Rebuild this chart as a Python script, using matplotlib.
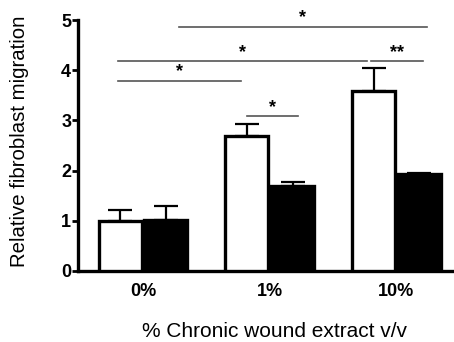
import numpy as np
import matplotlib.pyplot as plt

plt.rcParams['font.family'] = ['Liberation Sans', 'DejaVu Sans']

groups = ['0%', '1%', '10%']
open_vals = [1.0, 2.68, 3.58]
open_err = [0.22, 0.25, 0.47]
filled_vals = [1.01, 1.69, 1.94]
filled_err = [0.28, 0.09, 0.02]

# significance brackets: (x start, x end, height, label)
brackets = [
    (0.28, 2.24, 4.87, '*'),
    (-0.2, 1.77, 4.18, '*'),
    (1.80, 2.21, 4.18, '**'),
    (-0.2, 0.77, 3.79, '*'),
    (0.82, 1.22, 3.08, '*'),
]

x = np.arange(len(groups))
w = 0.34
off = 0.18

fig = plt.figure(figsize=(4.54, 3.42), dpi=100)
ax = fig.add_axes([0.172, 0.208, 0.828, 0.733])

ax.bar(x - off, open_vals, w, color='white', edgecolor='black', linewidth=2.4, zorder=3)
ax.bar(x + off, filled_vals, w, color='black', edgecolor='black', linewidth=2.4, zorder=3)
ax.errorbar(x - off, open_vals, yerr=[np.zeros(3), open_err], fmt='none',
            ecolor='black', elinewidth=1.6, capsize=8.5, capthick=1.6, zorder=2)
ax.errorbar(x + off, filled_vals, yerr=[np.zeros(3), filled_err], fmt='none',
            ecolor='black', elinewidth=1.6, capsize=8.5, capthick=1.6, zorder=2)

for x1, x2, yb, lab in brackets:
    ax.plot([x1, x2], [yb, yb], color='#555555', lw=1.2, clip_on=False)
    ax.text((x1 + x2) / 2, yb + 0.01, lab, ha='center', va='bottom',
            fontsize=13, fontweight='bold', clip_on=False)

ax.set_xlim(-0.513, 2.455)
ax.set_ylim(0, 5)
ax.set_yticks([0, 1, 2, 3, 4, 5])
ax.set_xticks(x)
ax.set_xticklabels(groups, fontsize=13, fontweight='bold')
ax.tick_params(axis='x', length=0, pad=9)
ax.tick_params(axis='y', length=4, width=2, pad=1, labelsize=13)
for t in ax.get_yticklabels():
    t.set_fontweight('bold')

ax.spines['top'].set_visible(False)
ax.spines['right'].set_visible(False)
ax.spines['left'].set_linewidth(2.4)
ax.spines['bottom'].set_linewidth(2.4)

ax.set_ylabel('Relative fibroblast migration', fontsize=14.7)
ax.yaxis.set_label_coords(-0.13, 0.516)
ax.set_xlabel('% Chronic wound extract v/v', fontsize=15, labelpad=15)
ax.xaxis.set_label_coords(0.5226, -0.205)

fig.savefig('out.png', dpi=100)
